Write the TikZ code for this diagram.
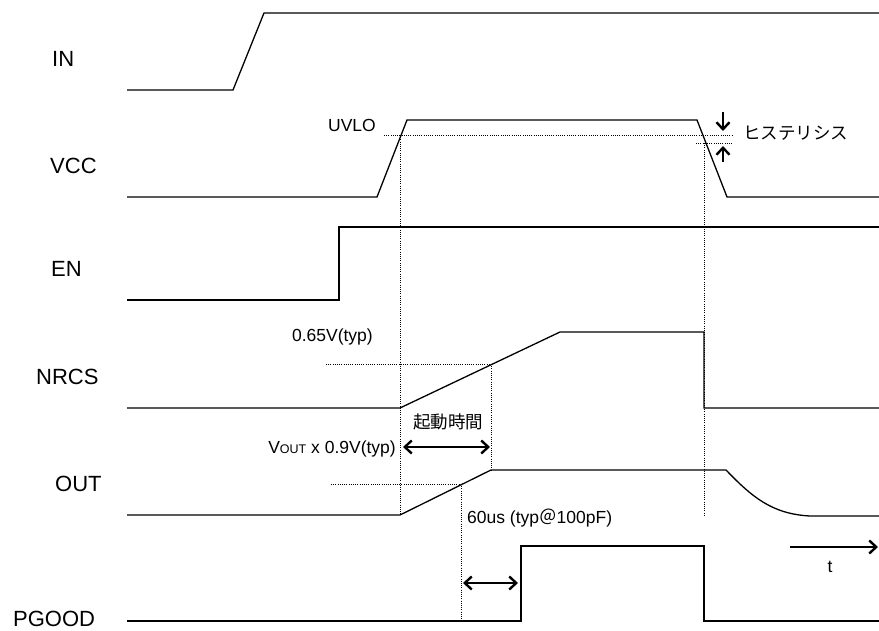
\documentclass[tikz,border=0pt]{standalone}
\usepackage{fontspec}
\setmainfont{Liberation Sans}
\newfontfamily\jpfont{Noto Sans CJK JP}
\usetikzlibrary{arrows.meta}
\tikzset{sig/.style={anchor=west,inner sep=0pt,font=\fontsize{22}{24}\selectfont},note/.style={inner sep=0pt,font=\fontsize{17.5}{20}\selectfont}}
\tikzstyle{wave}  = [line width=1.3pt]
\tikzstyle{guide} = [line width=0.8pt, dash pattern=on 1pt off 1.2pt]
\tikzstyle{span}  = [line width=2.4pt,{Straight Barb[length=7pt,width=13pt]}-{Straight Barb[length=7pt,width=13pt]}]
\tikzstyle{arrow} = [line width=2.4pt,-{Straight Barb[length=7pt,width=13pt]}]

\begin{document}
\begin{tikzpicture}[x=1pt,y=-1pt]
	\useasboundingbox (0,0) rectangle (879,631);
	% signal names
	\node[sig] (in) at (52,59) {IN};
	\node[sig] (vcc) at (50,166) {VCC};
	\node[sig] (en) at (51,269) {EN};
	\node[sig] (nrcs) at (36,377) {NRCS};
	\node[sig] (out) at (55,484) {OUT};
	\node[sig] (pgood) at (13,619) {PGOOD};
	% waveforms
	\draw[wave] (127,90) -- (233,90) -- (264,13) -- (879,13);
	\draw[wave] (127,197) -- (377,197) -- (407,120) -- (697,120) -- (727,197) -- (879,197);
	\draw[wave] (127,300) -- (339,300) -- (339,227) -- (879,227);
	\draw[wave] (127,408) -- (400,408) -- (560,332) -- (704,332) -- (704,408) -- (879,408);
	\draw[wave] (127,515) -- (400,515) -- (491,470) -- (726,470)
		.. controls (752,497) and (772,514) .. (810,516) -- (879,516);
	\draw[wave] (127,621) -- (521,621) -- (521,546) -- (704,546) -- (704,621) -- (879,621);
	% thresholds
	\draw[guide] (384,135) -- (733,135);
	\draw[guide] (696,143) -- (733,143);
	\draw[guide] (326,364) -- (491,364);
	\draw[guide] (331,484) -- (461,484);
	\draw[guide] (400,135) -- (400,515);
	\draw[guide] (704,143) -- (704,515);
	\draw[guide] (491,364) -- (491,470);
	\draw[guide] (461,484) -- (461,621);
	% labels
	\node[note] (uvlo) at (352,125) {UVLO};
	\node[note,anchor=west] (hys) at (743,133) {\jpfont ヒステリシス};
	\node[note,anchor=east] (nrth) at (373,337) {0.65V(typ)};
	\node[note] (tst) at (448,422) {\jpfont 起動時間};
	\node[note,anchor=east] (outth) at (396,449) {V{\fontsize{12.5}{14}\selectfont OUT} x 0.9V(typ)};
	\node[note,anchor=west] (dly) at (467,518) {60us (typ{\jpfont ＠}100pF)};
	\node[note] (tlab) at (830,567) {t};
	% arrows
	\coordinate (hd1) at (723,112);
	\coordinate (hd2) at (723,131);
	\coordinate (hu1) at (723,162);
	\coordinate (hu2) at (723,146);
	\draw[arrow] (hd1) -- (hd2);
	\draw[arrow] (hu1) -- (hu2);
	\coordinate (ts1) at (403,447);
	\coordinate (ts2) at (490,447);
	\draw[span] (ts1) -- (ts2);
	\coordinate (pg1) at (463,583);
	\coordinate (pg2) at (518,583);
	\draw[span] (pg1) -- (pg2);
	\coordinate (t1) at (790,547);
	\coordinate (t2) at (878,547);
	\draw[arrow] (t1) -- (t2);
\end{tikzpicture}
\end{document}
